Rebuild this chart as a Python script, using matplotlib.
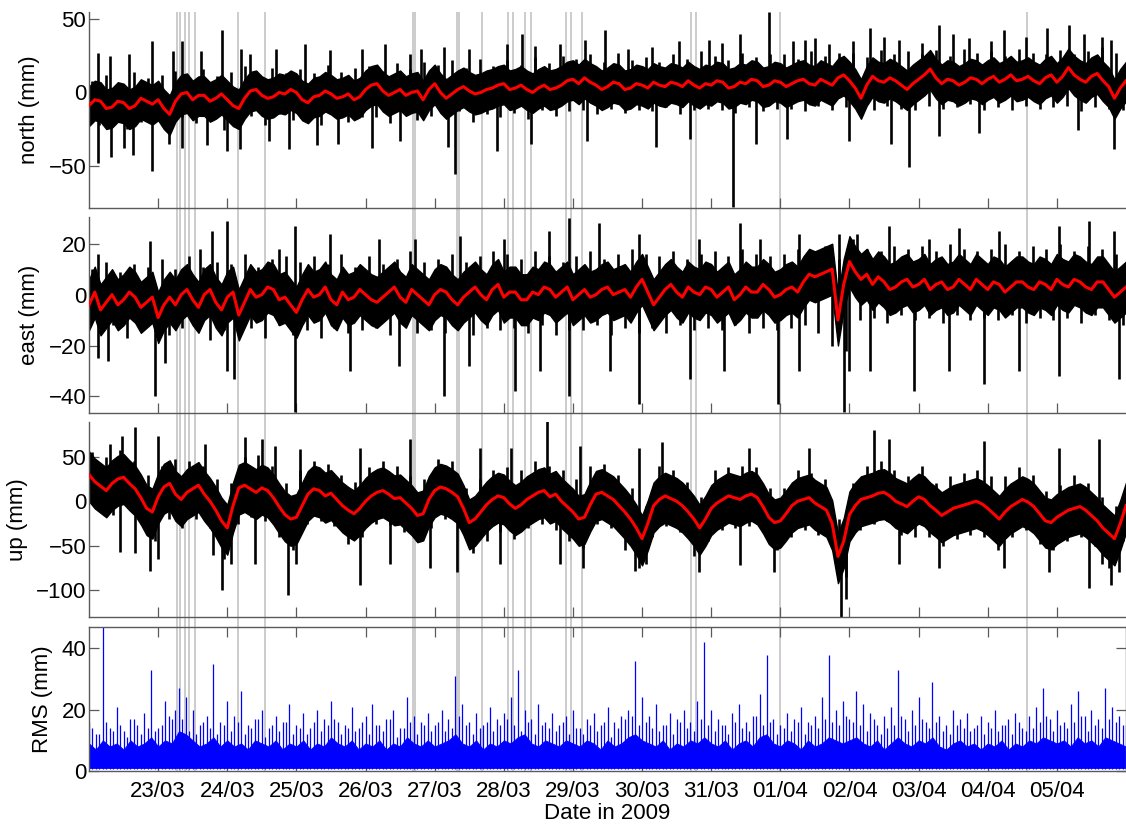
import numpy as np
import matplotlib
matplotlib.use("Agg")
import matplotlib.pyplot as plt

plt.rcParams['font.family'] = ['Liberation Sans', 'DejaVu Sans']
plt.rcParams['font.size'] = 16

# ---------------------------------------------------------------------------
# Time axis: days since 22/03/2009 00:00
# ---------------------------------------------------------------------------
tick_days = list(range(1, 15))
tick_labels = ['23/03', '24/03', '25/03', '26/03', '27/03', '28/03', '29/03',
               '30/03', '31/03', '01/04', '02/04', '03/04', '04/04', '05/04']

# epochs with data gaps (days)
gap_days = [1.267, 1.315, 1.387, 1.452, 1.532, 2.149, 2.543, 4.686, 4.718,
            5.318, 5.357, 5.689, 6.065, 6.132, 6.308, 6.395, 6.893, 6.965,
            7.134, 8.714, 8.779, 10.0, 13.574]

# smoothed series, one value every 2 hours from day 0 to day 15
north_smooth = [-9, -5, -6, -11, -10, -6, -7, -11, -9, -4, -6, -8, -5, -11, -15, -6,
                -1, 0, -5, -2, -2, -6, -4, -1, -5, -9, -11, -4, 1, 2, -2, -4, -3, 0,
                -1, 2, 0, -5, -7, -3, -2, 1, -1, -4, -3, -1, -5, -3, 2, 5, 6, 1, -2,
                0, 2, -2, 0, 1, -5, 2, 6, 0, -4, -1, 2, 4, 1, -1, 0, 2, 3, 5, 6, 2,
                3, 5, 2, 0, 3, 5, 2, 3, 5, 8, 9, 6, 10, 7, 5, 2, 4, 7, 6, 2, 3, 6, 5,
                3, 7, 5, 4, 7, 6, 4, 8, 5, 3, 6, 5, 8, 7, 3, 4, 7, 6, 9, 8, 4, 5, 8,
                7, 4, 6, 8, 9, 6, 5, 9, 7, 5, 10, 12, 8, 3, -4, 5, 11, 8, 7, 10, 8, 5,
                2, 6, 9, 12, 16, 10, 6, 9, 8, 5, 7, 10, 9, 6, 9, 11, 7, 9, 12, 8, 9,
                11, 8, 6, 10, 12, 7, 11, 17, 12, 9, 7, 11, 13, 8, 4, -4, 3, 8]

east_smooth = [-4, 1, -6, -3, 0, -4, -2, 1, -1, -5, -3, -1, -9, -4, -1, -4, 0, 2, -2,
               -5, 0, 2, -3, -6, -1, 1, -8, -3, 2, -1, 0, 3, 2, -2, -1, -4, -7, -2, 2,
               -1, 0, 3, -2, -4, 1, -2, -1, 2, 0, -2, -3, -1, 1, 3, -1, -3, 2, 0, -2,
               -4, 0, 2, 1, -2, -4, -1, 1, 3, 0, -2, 2, 4, -1, 1, 1, -2, -2, 1, 0, 3,
               2, -1, 1, 3, -2, 0, 2, -1, 0, 2, 3, 0, 1, 2, -1, 3, 6, 1, -4, -1, 2, 4,
               1, -1, 3, 1, 0, 3, 2, -1, 1, 3, -2, 0, 3, 1, 1, 4, 2, -1, 0, 2, 3, 1,
               5, 8, 7, 8, 9, 10, -10, 4, 13, 9, 6, 8, 4, 7, 5, 2, 3, 5, 6, 3, 4, 6,
               2, 4, 5, 2, 3, 6, 4, 2, 6, 4, 2, 5, 4, 1, 3, 5, 5, 3, 2, 5, 4, 2, 6, 4,
               3, 6, 5, 3, 2, 5, 5, 2, -1, 1, 3]

up_smooth = [30, 22, 17, 12, 20, 25, 27, 20, 14, 4, -8, -12, 5, 16, 20, 8, 2, 10, 14,
             18, 8, 0, -10, -22, -30, -5, 15, 18, 14, 10, 15, 12, 4, -6, -15, -20, -18,
             -5, 8, 14, 12, 6, 9, 2, -5, -10, -14, -8, 0, 6, 10, 12, 8, 3, 4, -2, -8,
             -16, -14, 2, 12, 16, 14, 10, 5, -8, -24, -20, -12, -4, 2, 6, 4, -3, -8,
             -4, 2, 6, 10, 12, 5, 8, 0, -6, -12, -20, -18, -4, 8, 10, 6, 2, -5, -12,
             -20, -30, -42, -25, -5, 2, 6, 3, 0, -5, -12, -20, -30, -20, -8, -2, 2, 6,
             4, 2, 6, 8, 4, -6, -18, -24, -22, -14, -5, 0, 2, 4, -2, -6, -10, -25,
             -62, -45, -15, -5, 2, 4, 6, 9, 10, 6, 0, -3, -6, 0, 5, 2, -5, -10, -16,
             -12, -8, -6, -4, -2, 0, -3, -8, -14, -20, -12, -6, -2, 2, -1, -6, -14,
             -22, -24, -18, -14, -10, -8, -6, -10, -16, -22, -30, -36, -42, -25, -5]

# extent of the dense core around the smoothed series (mm): above, below
north_band = (13, 14)
east_band = (10, 10)
up_band = (26, 30)

# alternating high / low excursions every 2.4 h, starting at day 0.05
minor_step = 0.1
north_minor = [8, -22, 12, -18, 6, -25, 14, -20, 10, -19,
               12, -24, 15, -17, 9, -21, 16, -18, 11, -26,
               14, -20, 18, -16, 12, -22, 17, -15, 13, -19,
               16, -18, 13, -22, 19, -15, 14, -20, 17, -17,
               18, -17, 15, -21, 20, -14, 16, -19, 21, -16,
               19, -16, 22, -13, 17, -20, 23, -15, 18, -17,
               22, -14, 19, -18, 24, -12, 20, -16, 25, -13,
               23, -12, 26, -15, 21, -11, 27, -14, 22, -12,
               24, -13, 21, -10, 26, -15, 23, -12, 28, -11,
               25, -12, 22, -14, 27, -10, 24, -13, 26, -11,
               26, -11, 23, -13, 28, -9, 25, -12, 27, -10,
               27, -10, 24, -12, 29, -9, 26, -11, 28, -12,
               26, -9, 29, -11, 25, -10, 30, -8, 27, -12,
               28, -10, 25, -12, 30, -9, 27, -11, 26, -10,
               29, -9, 26, -13, 28, -10, 31, -11, 27, -12]

east_minor = [10, -15, 13, -12, 9, -17, 12, -14, 11, -13,
              14, -16, 10, -13, 15, -12, 11, -18, 13, -14,
              12, -15, 16, -13, 11, -17, 14, -12, 15, -16,
              13, -14, 15, -17, 12, -13, 16, -15, 11, -14,
              15, -13, 12, -16, 14, -12, 17, -15, 13, -14,
              14, -15, 16, -12, 13, -16, 15, -13, 17, -14,
              16, -13, 14, -15, 17, -12, 15, -16, 13, -14,
              15, -14, 17, -12, 14, -16, 16, -13, 18, -15,
              16, -13, 15, -15, 17, -12, 14, -14, 16, -13,
              17, -14, 15, -12, 18, -15, 16, -13, 15, -14,
              16, -13, 18, -12, 17, -15, 19, -20, 14, -22,
              22, -10, 18, -9, 17, -11, 19, -8, 18, -10,
              19, -9, 17, -11, 20, -8, 18, -10, 17, -9,
              18, -10, 20, -8, 17, -11, 19, -9, 18, -10,
              20, -9, 17, -11, 19, -8, 18, -10, 16, -12]

up_minor = [55, -10, 50, -15, 58, -5, 45, -25, 30, -45,
            40, -20, 48, -30, 45, -20, 40, -30, 25, -65,
            20, -25, 50, -18, 52, -22, 40, -40, 20, -55,
            35, -25, 45, -22, 42, -28, 30, -48, 22, -40,
            38, -25, 45, -27, 40, -35, 28, -45, 25, -30,
            48, -20, 45, -30, 15, -58, 25, -45, 35, -35,
            38, -42, 35, -30, 45, -25, 40, -32, 35, -45,
            25, -52, 40, -25, 42, -30, 30, -55, 15, -75,
            -5, -40, 40, -28, 35, -35, 22, -62, 5, -45,
            35, -32, 38, -30, 40, -28, 38, -35, 15, -55,
            15, -40, 35, -32, 32, -38, 25, -45, -20, -85,
            20, -32, 40, -25, 45, -22, 35, -38, 28, -40,
            40, -40, 20, -50, 28, -42, 32, -38, 35, -40,
            28, -55, 28, -40, 38, -32, 30, -48, 12, -55,
            18, -45, 30, -40, 20, -50, 5, -75, -5, -45]

# larger individual excursions: (day, mm)
north_peak_t = [0.13, 0.30, 0.58, 0.91, 1.22, 1.34, 1.62, 1.92, 2.20, 2.33, 2.70,
                3.12, 3.48, 3.95, 4.28, 4.64, 4.80, 5.14, 5.50, 6.05, 6.26, 6.45,
                6.81, 7.17, 7.46, 7.80, 8.15, 8.54, 8.97, 9.15, 9.41, 9.84, 10.18,
                10.35, 10.50, 10.71, 11.05, 11.29, 11.50, 11.72, 12.05, 12.30, 12.50,
                12.73, 13.05, 13.24, 13.55, 13.86, 14.18, 14.39, 14.65, 14.78,
                0.13, 0.32, 0.50, 0.64, 0.91, 1.15, 1.35, 1.70, 2.00, 2.19, 2.60,
                2.90, 3.30, 3.60, 4.10, 4.50, 5.20, 5.29, 5.90, 6.40, 7.20, 8.20,
                8.70, 9.31, 9.65, 10.10, 11.00, 11.60, 11.86, 12.30, 12.88, 14.30,
                14.83]
north_peak_v = [27, 25, 26, 35, 28, 35, 28, 43, 30, 26, 30, 33, 29, 30, 33, 26, 30,
                31, 30, 33, 40, 32, 33, 36, 43, 30, 31, 35, 36, 34, 40, 55, 35, 36,
                37, 33, 35, 44, 38, 36, 34, 46, 40, 37, 35, 43, 38, 44, 46, 40, 38,
                36,
                -48, -44, -38, -43, -54, -35, -38, -36, -40, -39, -33, -39, -36, -35,
                -38, -33, -37, -56, -40, -35, -33, -37, -32, -78, -35, -32, -33, -35,
                -51, -30, -28, -26, -39]

east_peak_t = [0.13, 0.88, 1.60, 1.78, 1.99, 2.75, 2.98, 3.48, 4.20, 4.71, 5.36,
               6.01, 6.66, 6.95, 7.38, 7.96, 8.83, 9.41, 9.70, 10.27, 10.85, 11.11,
               11.57, 12.15, 12.59, 13.16, 14.03, 14.47, 14.83,
               0.13, 0.27, 0.95, 1.10, 1.99, 2.10, 2.98, 3.77, 4.49, 5.14, 5.50,
               6.16, 6.52, 6.95, 7.53, 7.96, 8.69, 9.19, 9.96, 10.27, 10.92, 11.00,
               11.29, 11.94, 12.44, 12.95, 13.45, 14.03, 14.90]
east_peak_v = [16, 21, 18, 25, 29, 18, 27, 24, 22, 22, 23, 22, 25, 30, 28, 24, 22,
               28, 22, 24, 24, 24, 27, 22, 26, 25, 27, 29, 25,
               -25, -26, -40, -27, -30, -33, -46, -30, -28, -40, -28, -38, -30, -40,
               -30, -43, -33, -30, -43, -30, -46, -30, -30, -38, -30, -35, -30, -32,
               -33]

up_peak_t = [0.30, 0.48, 0.66, 1.00, 1.68, 2.25, 2.50, 2.69, 3.05, 3.92, 4.64, 5.65,
             6.11, 6.62, 7.10, 7.96, 8.29, 9.55, 10.42, 11.36, 11.57, 12.95, 14.03,
             14.61,
             0.45, 0.66, 0.88, 1.00, 1.80, 1.92, 2.05, 2.40, 2.88, 3.00, 3.92, 4.35,
             4.93, 5.32, 5.94, 6.81, 7.14, 7.90, 8.05, 8.83, 9.41, 9.91, 10.88,
             10.95, 11.72, 12.30, 13.24, 13.89, 14.47, 14.65, 14.78, 14.90]
up_peak_v = [64, 73, 83, 73, 64, 72, 70, 62, 59, 60, 70, 60, 60, 90, 62, 60, 67, 60,
             60, 80, 70, 68, 60, 70,
             -57, -58, -78, -65, -60, -100, -70, -70, -105, -70, -94, -70, -75, -80,
             -70, -70, -75, -78, -70, -80, -72, -80, -130, -110, -70, -75, -75, -80,
             -97, -70, -94, -80]

# RMS, every 2.4 h: highest value, typical upper level of the dense part,
# and a secondary maximum half-way in between
rms_step = 0.1
rms_peak = [16, 12, 47, 14, 21, 13, 17, 15, 19, 33,
            14, 23, 17, 27, 24, 20, 15, 18, 35, 16,
            23, 18, 26, 15, 17, 20, 14, 18, 16, 22,
            15, 19, 14, 20, 17, 23, 16, 15, 21, 14,
            18, 22, 15, 17, 20, 14, 24, 18, 16, 19,
            15, 20, 17, 31, 22, 16, 19, 15, 21, 17,
            19, 24, 33, 20, 17, 22, 16, 19, 15, 18,
            20, 14, 17, 19, 15, 21, 16, 18, 20, 36,
            24, 18, 22, 15, 19, 17, 20, 16, 23, 42,
            20, 17, 15, 19, 22, 16, 18, 25, 38, 17,
            15, 19, 17, 21, 16, 18, 24, 38, 20, 23,
            17, 26, 22, 19, 15, 18, 21, 33, 17, 20,
            24, 16, 29, 18, 15, 20, 17, 19, 14, 18,
            16, 20, 15, 17, 19, 14, 18, 21, 27, 17,
            20, 16, 22, 26, 18, 20, 17, 27, 21, 18, 15]
rms_body = [9, 7, 10, 8, 9, 7, 10, 8, 9, 11,
            8, 10, 9, 13, 12, 10, 8, 9, 11, 8,
            10, 8, 9, 7, 10, 9, 8, 10, 7, 9,
            8, 10, 7, 9, 8, 11, 9, 8, 10, 7,
            9, 8, 10, 7, 9, 8, 11, 9, 8, 10,
            8, 9, 10, 12, 9, 8, 10, 7, 9, 8,
            10, 9, 11, 12, 9, 8, 10, 9, 8, 10,
            9, 8, 10, 9, 7, 10, 8, 9, 11, 12,
            10, 9, 8, 10, 7, 9, 8, 10, 9, 11,
            9, 8, 10, 7, 9, 10, 8, 11, 12, 9,
            8, 10, 9, 7, 10, 8, 9, 11, 10, 9,
            10, 11, 9, 8, 10, 7, 9, 11, 9, 8,
            10, 9, 11, 8, 7, 9, 10, 8, 9, 7,
            9, 8, 10, 7, 9, 8, 10, 9, 11, 10,
            9, 10, 8, 11, 9, 10, 8, 11, 10, 9, 8]
rms_mid = [14, 12, 16, 13, 15, 11, 17, 12, 14, 13,
           15, 18, 20, 17, 13, 12, 16, 14, 12, 15,
           13, 16, 12, 14, 17, 11, 15, 13, 16, 12,
           14, 12, 16, 13, 15, 17, 12, 14, 13, 16,
           12, 15, 13, 17, 11, 14, 16, 12, 15, 13,
           16, 13, 14, 18, 15, 12, 14, 16, 13, 15,
           17, 15, 13, 16, 12, 15, 14, 13, 16, 12,
           14, 12, 15, 13, 16, 11, 14, 17, 18, 15,
           16, 14, 13, 15, 12, 16, 14, 13, 17, 15,
           13, 15, 12, 16, 14, 13, 18, 15, 16, 12,
           14, 13, 16, 12, 15, 14, 17, 16, 15, 18,
           16, 15, 13, 17, 12, 14, 15, 18, 13, 15,
           17, 14, 16, 13, 12, 15, 14, 13, 15, 12,
           14, 13, 15, 12, 16, 13, 14, 16, 18, 13,
           15, 14, 16, 18, 13, 15, 14, 17, 16, 15]

# ---------------------------------------------------------------------------
W, H = 1126, 824
fig = plt.figure(figsize=(W / 100, H / 100), dpi=100, facecolor='white')

def rect(top, bottom, left=89, right=1126):
    return [left / W, 1 - bottom / H, (right - left) / W, (bottom - top) / H]

x_range = (0, 15)
spine_col = '#5a5a5a'

# vertical markers behind all panels
bg = fig.add_axes(rect(12, 771), zorder=0)
bg.set_xlim(*x_range)
bg.set_ylim(0, 1)
bg.axis('off')
bg.vlines(gap_days, 0, 1, color='#c4c4c4', lw=1.2)

panels = [
    ('north (mm)', north_smooth, north_band, north_minor, north_peak_t, north_peak_v,
     (-79, 55), [-50, 0, 50], (12, 208)),
    ('east (mm)', east_smooth, east_band, east_minor, east_peak_t, east_peak_v,
     (-46.5, 30.5), [-40, -20, 0, 20], (217, 413)),
    ('up (mm)', up_smooth, up_band, up_minor, up_peak_t, up_peak_v,
     (-130, 89), [-100, -50, 0, 50], (422, 617)),
]

def style_axis(ax, box):
    for side in ['left', 'bottom', 'top', 'right']:
        ax.spines[side].set_color(spine_col)
        ax.spines[side].set_linewidth(1.0)
    if not box:
        ax.spines['top'].set_visible(False)
        ax.spines['right'].set_visible(False)
    ax.tick_params(direction='in', length=7, width=0.9, color=spine_col,
                   labelsize=16, pad=2, top=box, right=box)
    ax.set_xlim(*x_range)
    ax.set_xticks(tick_days)
    ax.yaxis.labelpad = 6

for label, smooth, band, minor, pk_t, pk_v, ylim, yticks, (top, bottom) in panels:
    ax = fig.add_axes(rect(top, bottom), zorder=1)
    ax.patch.set_alpha(0)
    sm = np.array(smooth, dtype=float)
    ts = np.linspace(x_range[0], x_range[1], len(sm))
    # dense core of the raw solutions
    ax.fill_between(ts, sm - band[1], sm + band[0], color='black', lw=1.0,
                    edgecolor='black', zorder=2)
    # raw solutions reaching beyond the core, drawn from the smoothed level
    tm = 0.05 + np.arange(len(minor)) * minor_step
    raw_t = np.concatenate([tm, pk_t])
    raw_v = np.concatenate([minor, pk_v]).astype(float)
    base = np.interp(raw_t, ts, sm)
    ax.vlines(raw_t, base, raw_v, color='black', lw=1.9, zorder=2)
    ax.plot(ts, sm, color='#ff0000', lw=2.2, zorder=3)
    ax.set_ylim(*ylim)
    ax.set_yticks(yticks)
    style_axis(ax, box=False)
    ax.set_xticklabels([])
    ax.set_ylabel(label)

# RMS panel
ax = fig.add_axes(rect(627, 771), zorder=1)
ax.patch.set_alpha(0)
tr = np.arange(len(rms_peak)) * rms_step
tmid = 0.05 + np.arange(len(rms_mid)) * rms_step
ax.fill_between(tr, 1.0, rms_body, color='#0000ff', lw=0.6, edgecolor='#0000ff',
                zorder=2)
ax.vlines(tr, 0.8, rms_peak, color='#0000ff', lw=0.9, zorder=2)
ax.vlines(tmid, 0.8, rms_mid, color='#0000ff', lw=0.9, zorder=2)
ax.set_ylim(0, 47)
ax.set_yticks([0, 20, 40])
style_axis(ax, box=True)
ax.set_xticklabels(tick_labels)
ax.tick_params(axis='x', pad=7)
ax.set_ylabel('RMS (mm)')
ax.set_xlabel('Date in 2009', labelpad=1)

fig.savefig('out.png', dpi=100, facecolor='white')
